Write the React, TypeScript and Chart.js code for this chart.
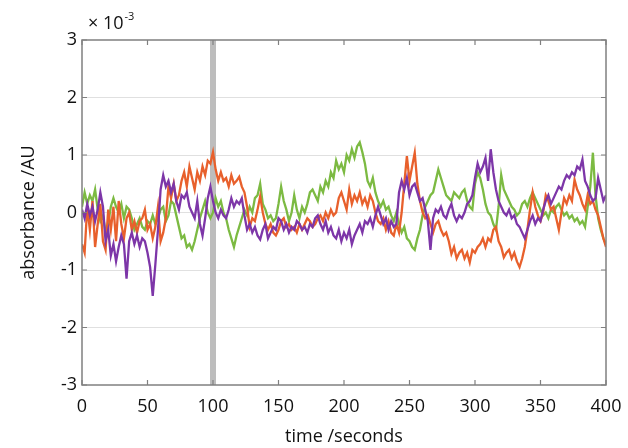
import React, { useEffect, useRef } from "react";
import { Chart, registerables } from "chart.js";

Chart.register(...registerables);

const TIME = [
  0, 2, 4, 6, 8, 10, 12, 14, 16, 18, 20, 22, 24, 26, 28, 30, 32, 34, 36, 38,
  40, 42, 44, 46, 48, 50, 52, 54, 56, 58, 60, 62, 64, 66, 68, 70, 72, 74, 76, 78,
  80, 82, 84, 86, 88, 90, 92, 94, 96, 98, 100, 102, 104, 106, 108, 110, 112, 114, 116, 118,
  120, 122, 124, 126, 128, 130, 132, 134, 136, 138, 140, 142, 144, 146, 148, 150, 152, 154, 156, 158,
  160, 162, 164, 166, 168, 170, 172, 174, 176, 178, 180, 182, 184, 186, 188, 190, 192, 194, 196, 198,
  200, 202, 204, 206, 208, 210, 212, 214, 216, 218, 220, 222, 224, 226, 228, 230, 232, 234, 236, 238,
  240, 242, 244, 246, 248, 250, 252, 254, 256, 258, 260, 262, 264, 266, 268, 270, 272, 274, 276, 278,
  280, 282, 284, 286, 288, 290, 292, 294, 296, 298, 300, 302, 304, 306, 308, 310, 312, 314, 316, 318,
  320, 322, 324, 326, 328, 330, 332, 334, 336, 338, 340, 342, 344, 346, 348, 350, 352, 354, 356, 358,
  360, 362, 364, 366, 368, 370, 372, 374, 376, 378, 380, 382, 384, 386, 388, 390, 392, 394, 396, 398,
  400,
];

const ORANGE = [
  -0.55, -0.7, 0.1, -0.3, 0.2, -0.6, -0.2, 0.15, -0.5, -0.65, 0.05, -0.3, 0.1, -0.5, 0.2, -0.2, -0.45, -0.1, 0.0, -0.3,
  -0.15, -0.35, -0.15, -0.1, 0.05, -0.3, -0.2, -0.45, -0.25, 0.1, -0.5, -0.35, -0.1, 0.45, 0.25, 0.5, 0.2, 0.3, 0.55, 0.7,
  0.45, 0.8, 0.6, 0.4, 0.7, 0.55, 0.8, 0.65, 0.9, 0.85, 1.05, 0.75, 0.55, 0.7, 0.55, 0.6, 0.45, 0.65, 0.5, 0.55,
  0.62, 0.45, 0.35, 0.1, -0.25, -0.1, -0.15, 0.05, 0.28, 0.0, -0.2, -0.3, -0.2, -0.35, -0.4, -0.3, -0.15, -0.1, -0.25, -0.2,
  -0.3, -0.25, -0.35, -0.2, -0.3, -0.2, -0.1, -0.15, -0.25, -0.2, -0.1, -0.05, -0.15, 0.0, -0.1, 0.05, -0.05, 0.0, 0.25, 0.35,
  0.2, 0.05, 0.4, 0.15, 0.3, 0.2, 0.35, 0.15, 0.25, 0.1, 0.3, 0.2, 0.0, -0.15, -0.2, -0.1, -0.3, -0.15, -0.35, -0.4,
  -0.2, -0.35, 0.0, 0.5, 0.98, 0.55, 0.8, 1.04, 0.5, 0.2, 0.0, -0.1, -0.05, -0.2, -0.35, -0.2, -0.15, -0.3, -0.4, -0.35,
  -0.5, -0.72, -0.6, -0.8, -0.7, -0.65, -0.8, -0.7, -0.87, -0.65, -0.7, -0.6, -0.55, -0.45, -0.6, -0.45, -0.5, -0.3, -0.25, -0.5,
  -0.6, -0.78, -0.7, -0.65, -0.8, -0.7, -0.85, -0.95, -0.8, -0.6, -0.3, 0.05, 0.35, 0.1, -0.05, -0.15, 0.0, 0.3, 0.2, 0.05,
  0.1, -0.1, -0.3, 0.0, 0.25, 0.15, 0.3, 0.2, 0.57, 0.4, 0.3, 0.15, 0.05, 0.3, 0.15, 0.2, 0.05, -0.05, -0.25, -0.45,
  -0.6,
];

const PURPLE = [
  0.05, -0.1, 0.15, -0.05, 0.1, -0.15, 0.05, 0.35, 0.1, -0.5, -0.3, -0.75, -0.55, -0.85, -0.6, -0.4, -0.55, -1.15, -0.5, -0.35,
  -0.55, -0.4, -0.6, -0.45, -0.5, -0.7, -0.95, -1.45, -0.9, -0.3, 0.4, 0.65, 0.45, 0.55, 0.35, 0.5, 0.2, 0.05, 0.3, 0.25,
  0.35, 0.1, 0.0, -0.1, 0.2, -0.2, -0.4, -0.1, 0.25, 0.45, 0.2, 0.0, -0.1, 0.05, -0.05, -0.1, 0.05, 0.25, 0.1, 0.2,
  0.15, 0.25, -0.05, -0.3, -0.2, -0.35, -0.25, -0.4, -0.47, -0.3, -0.2, -0.45, -0.35, -0.25, -0.3, -0.1, -0.15, -0.3, -0.2, -0.35,
  -0.25, -0.3, -0.15, -0.2, -0.3, -0.25, -0.35, -0.2, -0.25, -0.1, -0.05, -0.2, -0.3, -0.15, -0.35, -0.25, -0.4, -0.45, -0.3, -0.5,
  -0.35, -0.45, -0.3, -0.55, -0.4, -0.3, -0.2, -0.35, -0.15, -0.2, -0.1, -0.25, -0.05, 0.1, -0.05, -0.2, -0.1, -0.3, -0.15, -0.25,
  -0.2, 0.35, 0.55, 0.4, 0.6, 0.3, 0.45, 0.5, 0.35, 0.2, 0.25, 0.05, -0.15, -0.65, -0.1, 0.05, 0.0, 0.1, -0.05, -0.1,
  0.05, 0.15, -0.05, -0.15, -0.05, -0.1, 0.0, 0.15, 0.2, 0.3, 0.6, 0.85, 0.7, 0.8, 0.95, 0.55, 1.1, 0.7, 0.4, 0.2,
  0.1, 0.0, -0.05, 0.05, -0.1, -0.05, -0.2, -0.25, -0.35, -0.45, -0.3, -0.15, -0.05, -0.2, -0.1, -0.15, 0.05, 0.2, 0.3, 0.15,
  0.25, 0.35, 0.45, 0.4, 0.55, 0.65, 0.6, 0.7, 0.65, 0.8, 0.75, 0.92, 0.55, 0.45, 0.3, 0.2, 0.25, 0.6, 0.4, 0.2,
  0.3,
];

const GREEN = [
  0.1, 0.35, 0.15, 0.3, 0.2, 0.4, 0.05, -0.15, -0.05, -0.35, -0.2, 0.1, 0.25, 0.1, 0.0, 0.15, -0.1, 0.1, 0.05, -0.1,
  -0.3, -0.2, -0.1, -0.25, -0.3, -0.15, -0.2, -0.05, -0.2, -0.1, 0.05, 0.1, -0.15, -0.05, 0.2, 0.15, -0.05, -0.25, -0.45, -0.4,
  -0.6, -0.55, -0.65, -0.5, -0.3, -0.1, 0.05, 0.2, 0.0, -0.1, 0.0, 0.25, 0.1, 0.2, 0.0, -0.1, -0.3, -0.45, -0.6, -0.4,
  -0.25, -0.1, 0.05, -0.05, 0.1, 0.0, 0.25, 0.3, 0.5, 0.15, 0.05, -0.1, -0.05, -0.15, -0.1, 0.15, 0.45, 0.2, 0.05, -0.15,
  0.0, 0.3, 0.05, -0.1, 0.1, 0.0, 0.15, 0.35, 0.4, 0.3, 0.2, 0.45, 0.35, 0.55, 0.45, 0.7, 0.6, 0.9, 0.75, 0.85,
  0.7, 1.0, 0.9, 1.1, 0.95, 1.15, 1.22, 1.05, 0.85, 0.55, 0.45, 0.6, 0.35, 0.2, 0.1, 0.2, 0.05, 0.1, -0.05, -0.15,
  0.0, -0.2, -0.35, -0.25, -0.45, -0.5, -0.6, -0.65, -0.45, -0.3, -0.05, 0.1, 0.2, 0.3, 0.35, 0.55, 0.75, 0.6, 0.45, 0.3,
  0.25, 0.2, 0.35, 0.3, 0.25, 0.35, 0.4, 0.2, 0.1, 0.05, 0.5, 0.7, 0.6, 0.4, 0.15, 0.0, -0.05, -0.2, -0.3, 0.1,
  0.65, 0.4, 0.3, 0.2, 0.1, 0.05, -0.05, 0.0, 0.15, 0.2, 0.1, 0.25, 0.35, 0.25, 0.15, 0.05, -0.05, 0.0, -0.1, 0.05,
  0.0, 0.1, 0.15, 0.05, -0.05, 0.0, -0.1, -0.05, -0.15, -0.1, -0.2, -0.15, -0.25, 0.1, 0.45, 1.04, 0.3, -0.1, -0.3, -0.45,
  -0.55,
];

const X_TICKS = [0, 50, 100, 150, 200, 250, 300, 350, 400];
const Y_TICKS = [-3, -2, -1, 0, 1, 2, 3];
const MARKER_TIME = 100;

const FONT = "'Open Sans', 'Liberation Sans', sans-serif";

const toPoints = (vals: number[]) => TIME.map((t, i) => ({ x: t, y: vals[i] }));

const decorPlugin = {
  id: "decor",
  beforeDatasetsDraw(chart: any) {
    const { ctx, chartArea, scales } = chart;
    const x = scales.x.getPixelForValue(MARKER_TIME);
    ctx.save();
    ctx.fillStyle = "#bdbdbd";
    ctx.fillRect(x - 3, chartArea.top, 6, chartArea.bottom - chartArea.top);
    ctx.restore();
  },
  afterDraw(chart: any) {
    const { ctx, chartArea, scales } = chart;
    const { left, right, top, bottom } = chartArea;
    ctx.save();
    ctx.strokeStyle = "#808080";
    ctx.lineWidth = 1.5;
    ctx.strokeRect(left, top, right - left, bottom - top);
    ctx.lineWidth = 1.2;
    ctx.beginPath();
    X_TICKS.forEach((t) => {
      const px = scales.x.getPixelForValue(t);
      ctx.moveTo(px, top);
      ctx.lineTo(px, top + 5);
      ctx.moveTo(px, bottom);
      ctx.lineTo(px, bottom - 5);
    });
    Y_TICKS.forEach((v) => {
      const py = scales.y.getPixelForValue(v);
      ctx.moveTo(left, py);
      ctx.lineTo(left + 5, py);
      ctx.moveTo(right, py);
      ctx.lineTo(right - 5, py);
    });
    ctx.stroke();

    ctx.fillStyle = "#111";
    ctx.font = `18px ${FONT}`;
    ctx.textBaseline = "alphabetic";
    ctx.textAlign = "left";
    ctx.fillText("× 10", left + 6, top - 11);
    const w = ctx.measureText("× 10").width;
    ctx.font = `11px ${FONT}`;
    ctx.fillText("-3", left + 6 + w + 1, top - 20);

    ctx.font = `18px ${FONT}`;
    ctx.textAlign = "center";
    ctx.textBaseline = "middle";
    ctx.fillText("time /seconds", (left + right) / 2, 437);

    ctx.translate(29, (top + bottom) / 2);
    ctx.rotate(-Math.PI / 2);
    ctx.fillText("absorbance /AU", 0, 0);
    ctx.restore();
  },
};

export default function App() {
  const ref = useRef<HTMLCanvasElement>(null);

  useEffect(() => {
    document.body.style.margin = "0";
    const chart = new Chart(ref.current as HTMLCanvasElement, {
      type: "line",
      data: {
        datasets: [
          { label: "purple", data: toPoints(PURPLE), borderColor: "#7d36a8", borderWidth: 2.3, pointRadius: 0, tension: 0 },
          { label: "orange", data: toPoints(ORANGE), borderColor: "#e8602c", borderWidth: 2.3, pointRadius: 0, tension: 0 },
          { label: "green", data: toPoints(GREEN), borderColor: "#7cba42", borderWidth: 2.3, pointRadius: 0, tension: 0 },
        ],
      },
      options: {
        animation: false,
        responsive: false,
        maintainAspectRatio: false,
        layout: { padding: { top: 40, right: 22, left: 0, bottom: 0 } },
        plugins: { legend: { display: false }, tooltip: { enabled: false } },
        scales: {
          x: {
            type: "linear",
            min: 0,
            max: 400,
            afterBuildTicks: (s: any) => {
              s.ticks = X_TICKS.map((v) => ({ value: v }));
            },
            afterFit: (s: any) => {
              s.height = 63;
              s.paddingLeft = 0;
              s.paddingRight = 0;
            },
            ticks: { color: "#111", font: { size: 18, family: FONT }, padding: 11, maxRotation: 0 },
            grid: { display: false, drawTicks: false },
            border: { display: false },
          },
          y: {
            min: -3,
            max: 3,
            afterBuildTicks: (s: any) => {
              s.ticks = Y_TICKS.map((v) => ({ value: v }));
            },
            afterFit: (s: any) => {
              s.width = 82;
              s.paddingTop = 0;
              s.paddingBottom = 0;
            },
            ticks: { color: "#111", font: { size: 18, family: FONT }, padding: 5 },
            grid: {
              drawTicks: false,
              color: (c: any) => (c.tick && (c.tick.value === 3 || c.tick.value === -3) ? "rgba(0,0,0,0)" : "#e0e0e0"),
              lineWidth: 1,
            },
            border: { display: false },
          },
        },
      },
      plugins: [decorPlugin],
    } as any);
    return () => chart.destroy();
  }, []);

  return (
    <div style={{ position: "absolute", left: 0, top: 0, width: 628, height: 448, background: "#fff" }}>
      <canvas ref={ref} width={628} height={448} style={{ width: 628, height: 448 }} />
    </div>
  );
}
